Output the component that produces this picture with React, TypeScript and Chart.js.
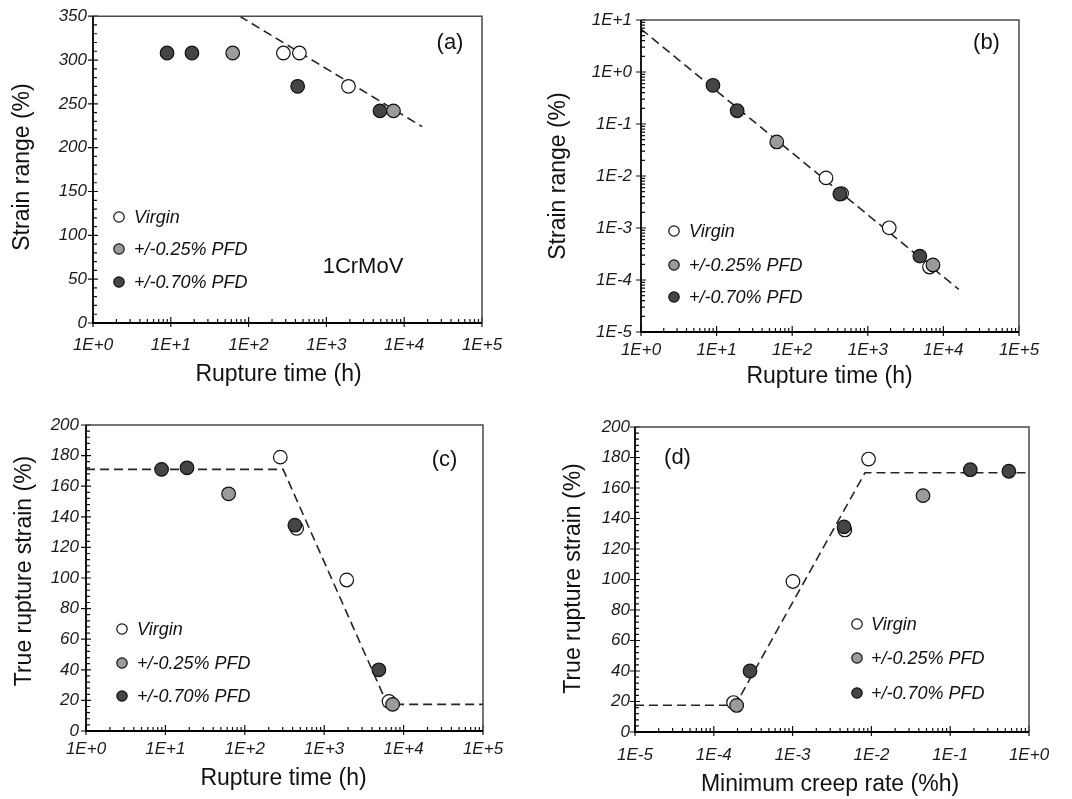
import React, { useEffect, useRef } from 'react';
import { Chart, registerables } from 'chart.js';

Chart.register(...registerables);

// ---- Test groups ----
const groupLabels = ['Virgin', '+/-0.25% PFD', '+/-0.70% PFD'];

// Rupture time (h)
const virginTime = [280, 450, 1920, 6550];
const pfd025Time = [62.5, 7280];
const pfd070Time = [8.95, 18.7, 427, 4880];

// Strain range (%), panel (a)
const virginRange: (number | null)[] = [308, 308, 270, null];
const pfd025Range = [308, 242];
const pfd070Range = [308, 308, 270, 242];

// Minimum creep rate (%/h), panels (b) and (d)
const virginRate = [0.0092, 0.0046, 0.00101, 0.000178];
const pfd025Rate = [0.0452, 0.000195];
const pfd070Rate = [0.555, 0.18, 0.0045, 0.000288];

// True rupture strain (%), panels (c) and (d)
const virginStrain = [179, 132.5, 98.7, 19.3];
const pfd025Strain = [155, 17.4];
const pfd070Strain = [171, 172, 134.5, 40];

// Fitted trend lines
const fitATime = [77, 17000];
const fitARange = [350, 224];
const fitBTime = [1, 16000];
const fitBRate = [6.7, 0.000066];
const fitCTime = [1, 304, 6250, 100000];
const fitCStrain = [171, 171, 17.4, 17.4];
const fitDRate = [0.00001, 0.000187, 0.0083, 1];
const fitDStrain = [17.5, 17.5, 170, 170];

// Axis tick values
const timeDecades = [1, 10, 100, 1000, 10000, 100000];
const rateDecadesB = [1e-5, 1e-4, 1e-3, 1e-2, 1e-1, 1, 10];
const rateDecadesD = [1e-5, 1e-4, 1e-3, 1e-2, 1e-1, 1];

// ---- Styling ----
const FONT = '"Liberation Sans", Arial, Helvetica, sans-serif';
const INK = '#1a1a1a';
const groupFills = ['#ffffff', '#9b9b9b', '#454545'];
const tickFont = { family: FONT, size: 17, style: 'italic' as const };
const Y_W = 70;
const X_H = 40;

function pts(xs: number[], ys: (number | null)[]) {
  return xs
    .map((x, i) => ({ x, y: ys[i] }))
    .filter((p) => p.y !== null && p.y !== undefined) as { x: number; y: number }[];
}

function expLabel(v: number) {
  const e = Math.round(Math.log10(v));
  return '1E' + (e < 0 ? '-' : '+') + Math.abs(e);
}

function logAxis(min: number, max: number, decades: number[], pad: number, isY: boolean) {
  return {
    type: 'logarithmic',
    min,
    max,
    afterBuildTicks: (s: any) => {
      s.ticks = decades.map((v) => ({ value: v }));
    },
    afterFit: (s: any) => {
      if (isY) s.width = Y_W;
      else s.height = X_H;
    },
    ticks: {
      autoSkip: false,
      maxRotation: 0,
      minRotation: 0,
      padding: pad,
      color: INK,
      font: tickFont,
      callback: (v: any) => expLabel(Number(v)),
    },
    grid: { display: false, drawTicks: false },
    border: { display: false },
    title: { display: false },
  };
}

function linAxis(max: number, step: number, pad: number) {
  return {
    type: 'linear',
    min: 0,
    max,
    afterFit: (s: any) => {
      s.width = Y_W;
    },
    ticks: { stepSize: step, padding: pad, color: INK, font: tickFont },
    grid: { display: false, drawTicks: false },
    border: { display: false },
    title: { display: false },
  };
}

function scatterSet(label: string, data: any[], fill: string, order: number) {
  return {
    label,
    data,
    order,
    showLine: false,
    pointRadius: 6.8,
    pointHoverRadius: 6.8,
    pointBackgroundColor: fill,
    backgroundColor: fill,
    pointBorderColor: '#111',
    borderColor: '#111',
    pointBorderWidth: 1.2,
    borderWidth: 1.2,
  };
}

function fitSet(data: any[]) {
  return {
    label: 'fit',
    data,
    order: 10,
    showLine: true,
    pointRadius: 0,
    pointHoverRadius: 0,
    borderColor: '#262626',
    borderWidth: 1.6,
    borderDash: [9, 5],
    fill: false,
    tension: 0,
  };
}

type Minor = { kind: 'log'; decades: number[] } | { kind: 'lin'; step: number; major: number };

type Panel = {
  area: { l: number; t: number; r: number; b: number };
  x: any;
  y: any;
  xMinor: Minor;
  yMinor: Minor;
  sets: any[];
  xTitle: string;
  xTitleAt: [number, number];
  yTitle: string;
  yTitleAt: [number, number];
  tag: string;
  tagAt: [number, number];
  note?: { text: string; at: [number, number] };
  legendAt: [number, number][];
  legendTextX: number;
};

const panels: Panel[] = [
  {
    area: { l: 93, t: 16, r: 482, b: 323 },
    x: logAxis(1, 1e5, timeDecades, 12, false),
    y: linAxis(350, 50, 6),
    xMinor: { kind: 'log', decades: timeDecades },
    yMinor: { kind: 'lin', step: 10, major: 50 },
    sets: [
      scatterSet(groupLabels[0], pts(virginTime, virginRange), groupFills[0], 3),
      scatterSet(groupLabels[2], pts(pfd070Time, pfd070Range), groupFills[2], 2),
      scatterSet(groupLabels[1], pts(pfd025Time, pfd025Range), groupFills[1], 1),
      fitSet(pts(fitATime, fitARange)),
    ],
    xTitle: 'Rupture time (h)',
    xTitleAt: [278.5, 375],
    yTitle: 'Strain range (%)',
    yTitleAt: [23, 167],
    tag: '(a)',
    tagAt: [450, 43],
    note: { text: '1CrMoV', at: [363, 267] },
    legendAt: [
      [119, 217],
      [119, 249],
      [119, 282],
    ],
    legendTextX: 134,
  },
  {
    area: { l: 641, t: 20, r: 1019, b: 332 },
    x: logAxis(1, 1e5, timeDecades, 8, false),
    y: logAxis(1e-5, 10, rateDecadesB, 9, true),
    xMinor: { kind: 'log', decades: timeDecades },
    yMinor: { kind: 'log', decades: rateDecadesB },
    sets: [
      scatterSet(groupLabels[0], pts(virginTime, virginRate), groupFills[0], 3),
      scatterSet(groupLabels[2], pts(pfd070Time, pfd070Rate), groupFills[2], 2),
      scatterSet(groupLabels[1], pts(pfd025Time, pfd025Rate), groupFills[1], 1),
      fitSet(pts(fitBTime, fitBRate)),
    ],
    xTitle: 'Rupture time (h)',
    xTitleAt: [829.5, 377],
    yTitle: 'Strain range (%)',
    yTitleAt: [559, 176],
    tag: '(b)',
    tagAt: [986.5, 43],
    legendAt: [
      [674, 231],
      [674, 265],
      [674, 297],
    ],
    legendTextX: 689,
  },
  {
    area: { l: 86, t: 425, r: 483, b: 731 },
    x: logAxis(1, 1e5, timeDecades, 8, false),
    y: linAxis(200, 20, 7),
    xMinor: { kind: 'log', decades: timeDecades },
    yMinor: { kind: 'lin', step: 4, major: 20 },
    sets: [
      scatterSet(groupLabels[0], pts(virginTime, virginStrain), groupFills[0], 3),
      scatterSet(groupLabels[2], pts(pfd070Time, pfd070Strain), groupFills[2], 2),
      scatterSet(groupLabels[1], pts(pfd025Time, pfd025Strain), groupFills[1], 1),
      fitSet(pts(fitCTime, fitCStrain)),
    ],
    xTitle: 'Rupture time (h)',
    xTitleAt: [283.5, 778.5],
    yTitle: 'True rupture strain (%)',
    yTitleAt: [25, 571],
    tag: '(c)',
    tagAt: [444.5, 460],
    legendAt: [
      [122, 629],
      [122, 663],
      [122, 696],
    ],
    legendTextX: 137,
  },
  {
    area: { l: 635, t: 427, r: 1029, b: 732 },
    x: logAxis(1e-5, 1, rateDecadesD, 13, false),
    y: linAxis(200, 20, 5),
    xMinor: { kind: 'log', decades: rateDecadesD },
    yMinor: { kind: 'lin', step: 4, major: 20 },
    sets: [
      scatterSet(groupLabels[0], pts(virginRate, virginStrain), groupFills[0], 3),
      scatterSet(groupLabels[2], pts(pfd070Rate, pfd070Strain), groupFills[2], 2),
      scatterSet(groupLabels[1], pts(pfd025Rate, pfd025Strain), groupFills[1], 1),
      fitSet(pts(fitDRate, fitDStrain)),
    ],
    xTitle: 'Minimum creep rate (%h)',
    xTitleAt: [830, 785],
    yTitle: 'True rupture strain (%)',
    yTitleAt: [574, 578.5],
    tag: '(d)',
    tagAt: [677.5, 458],
    legendAt: [
      [857, 624],
      [857, 658],
      [857, 693],
    ],
    legendTextX: 871,
  },
];

function minorValues(m: Minor, min: number, max: number) {
  const out: number[] = [];
  if (m.kind === 'log') {
    for (const d of m.decades) {
      for (let k = 2; k <= 9; k++) {
        const v = k * d;
        if (v > min && v < max) out.push(v);
      }
    }
  } else {
    for (let v = min; v <= max + 1e-9; v += m.step) {
      if (Math.abs(v / m.major - Math.round(v / m.major)) > 1e-6) out.push(v);
    }
  }
  return out;
}

function majorValues(m: Minor, min: number, max: number) {
  if (m.kind === 'log') return m.decades.filter((v) => v >= min && v <= max);
  const out: number[] = [];
  for (let v = min; v <= max + 1e-9; v += m.major) out.push(v);
  return out;
}

function makeDecor(p: Panel) {
  return {
    id: 'panelDecor',
    afterDraw(chart: any) {
      const ctx: CanvasRenderingContext2D = chart.ctx;
      const { left, right, top, bottom } = chart.chartArea;
      const xs = chart.scales.x;
      const ys = chart.scales.y;
      ctx.save();

      // tick marks
      ctx.strokeStyle = '#111';
      ctx.lineWidth = 1.2;
      ctx.beginPath();
      for (const v of majorValues(p.xMinor, xs.min, xs.max)) {
        const px = xs.getPixelForValue(v);
        ctx.moveTo(px, bottom - 6);
        ctx.lineTo(px, bottom + 4);
      }
      for (const v of minorValues(p.xMinor, xs.min, xs.max)) {
        const px = xs.getPixelForValue(v);
        ctx.moveTo(px, bottom);
        ctx.lineTo(px, bottom - 4);
      }
      for (const v of majorValues(p.yMinor, ys.min, ys.max)) {
        const py = ys.getPixelForValue(v);
        ctx.moveTo(left - 5, py);
        ctx.lineTo(left + 5, py);
      }
      for (const v of minorValues(p.yMinor, ys.min, ys.max)) {
        const py = ys.getPixelForValue(v);
        ctx.moveTo(left, py);
        ctx.lineTo(left + 4, py);
      }
      ctx.stroke();

      // frame
      ctx.strokeStyle = '#4a4a4a';
      ctx.lineWidth = 1.5;
      ctx.beginPath();
      ctx.moveTo(left, top);
      ctx.lineTo(right, top);
      ctx.lineTo(right, bottom);
      ctx.stroke();
      ctx.strokeStyle = '#000';
      ctx.lineWidth = 1.8;
      ctx.beginPath();
      ctx.moveTo(left, top);
      ctx.lineTo(left, bottom);
      ctx.lineTo(right, bottom);
      ctx.stroke();

      // axis titles
      ctx.fillStyle = '#111';
      ctx.textAlign = 'center';
      ctx.textBaseline = 'middle';
      ctx.font = `23px ${FONT}`;
      ctx.fillText(p.xTitle, p.xTitleAt[0], p.xTitleAt[1]);
      ctx.save();
      ctx.translate(p.yTitleAt[0], p.yTitleAt[1]);
      ctx.rotate(-Math.PI / 2);
      ctx.fillText(p.yTitle, 0, 0);
      ctx.restore();

      // panel tag and material note
      ctx.font = `22px ${FONT}`;
      ctx.fillText(p.tag, p.tagAt[0], p.tagAt[1]);
      if (p.note) ctx.fillText(p.note.text, p.note.at[0], p.note.at[1]);

      // legend
      ctx.textAlign = 'left';
      ctx.font = `italic 18px ${FONT}`;
      groupLabels.forEach((label, i) => {
        const [mx, my] = p.legendAt[i];
        ctx.beginPath();
        ctx.arc(mx, my, 5.2, 0, Math.PI * 2);
        ctx.fillStyle = groupFills[i];
        ctx.fill();
        ctx.strokeStyle = '#111';
        ctx.lineWidth = 1.2;
        ctx.stroke();
        ctx.fillStyle = '#111';
        ctx.fillText(label, p.legendTextX, my + 1);
      });

      ctx.restore();
    },
  };
}

function PanelChart({ panel }: { panel: Panel }) {
  const ref = useRef<HTMLCanvasElement | null>(null);
  useEffect(() => {
    if (!ref.current) return;
    const { l, t, r, b } = panel.area;
    const chart = new Chart(ref.current, {
      type: 'scatter',
      data: { datasets: panel.sets },
      options: {
        animation: false,
        responsive: false,
        devicePixelRatio: 1,
        layout: {
          padding: { left: l - Y_W, top: t, right: 1072 - r, bottom: 799 - b - X_H },
        },
        plugins: {
          legend: { display: false },
          tooltip: { enabled: false },
          title: { display: false },
        },
        scales: { x: panel.x, y: panel.y },
      } as any,
      plugins: [makeDecor(panel)],
    });
    return () => chart.destroy();
  }, [panel]);
  return (
    <canvas
      ref={ref}
      width={1072}
      height={799}
      style={{ position: 'absolute', left: 0, top: 0, display: 'block' }}
    />
  );
}

export default function App() {
  return (
    <div
      style={{
        position: 'absolute',
        left: 0,
        top: 0,
        width: 1072,
        height: 799,
        background: '#ffffff',
        overflow: 'hidden',
      }}
    >
      {panels.map((p, i) => (
        <PanelChart key={i} panel={p} />
      ))}
    </div>
  );
}
